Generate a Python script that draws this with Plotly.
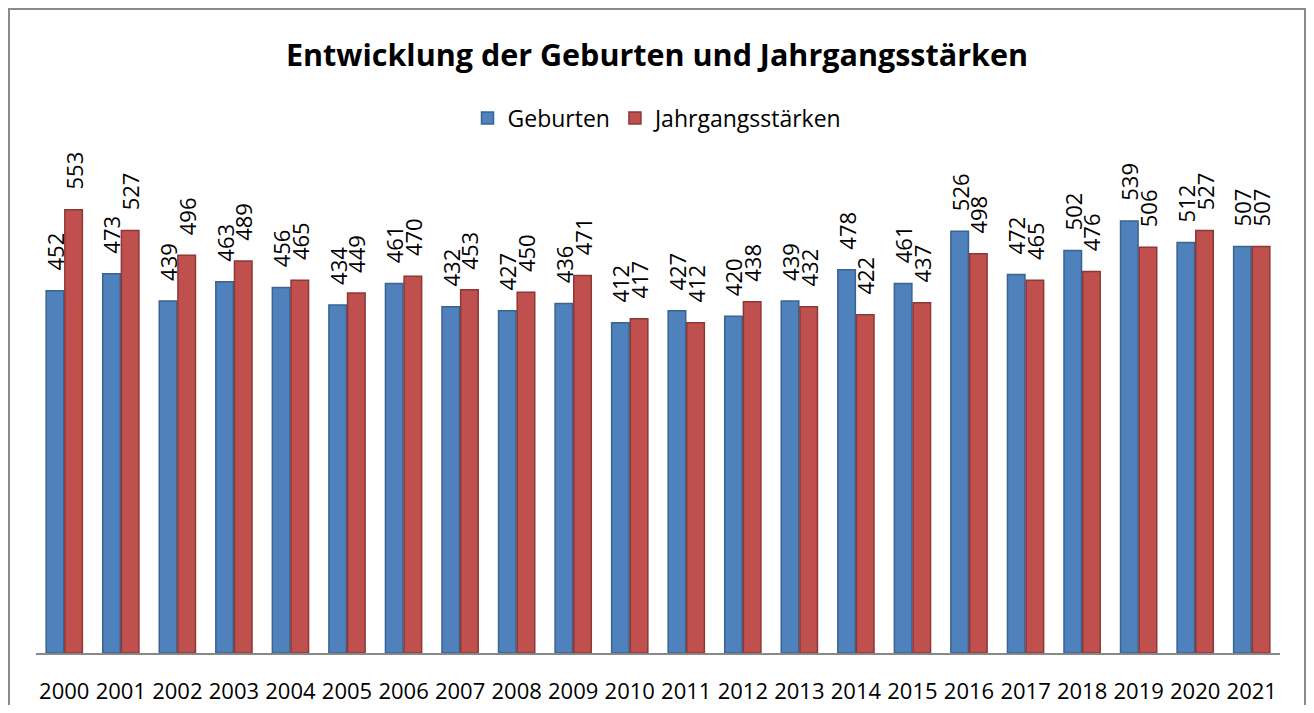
import plotly.graph_objects as go

years = [str(y) for y in range(2000, 2022)]
geburten = [452, 473, 439, 463, 456, 434, 461, 432, 427, 436, 412, 427, 420, 439, 478, 461, 526, 472, 502, 539, 512, 507]
jahrgang = [553, 527, 496, 489, 465, 449, 470, 453, 450, 471, 417, 412, 438, 432, 422, 437, 498, 465, 476, 506, 527, 507]

# page body has an 8px margin on every side; figure coords = screen coords - 8
OFF = 8
W, H = 1314 - 2 * OFF, 713 - 2 * OFF
plot_left, plot_right, plot_top, plot_bottom = 36, 1280, 172, 653  # screen px
ml = plot_left - OFF
mr = W - (plot_right - OFF)
mt = plot_top - OFF
mb = H - (plot_bottom - OFF)
pw, ph = W - ml - mr, H - mt - mb

font_family = "Open Sans, Lato, Liberation Sans, sans-serif"
label_tpl = "\u00a0\u00a0\u00a0%{y}"

fig = go.Figure()
fig.add_trace(go.Bar(
    name="Geburten", x=years, y=geburten,
    marker=dict(color="#4F81BD", line=dict(color="#3A6390", width=1.5)),
    texttemplate=label_tpl, textposition="outside", textangle=-90,
    textfont=dict(size=22, color="#000000", family=font_family),
    cliponaxis=False,
))
fig.add_trace(go.Bar(
    name="Jahrgangsstärken", x=years, y=jahrgang,
    marker=dict(color="#C0504D", line=dict(color="#8C3836", width=1.5)),
    texttemplate=label_tpl, textposition="outside", textangle=-90,
    textfont=dict(size=22, color="#000000", family=font_family),
    cliponaxis=False,
))

def px_x(sx):
    return (sx - OFF - ml) / pw

def px_y(sy):
    return (H - mb - (sy - OFF)) / ph

fig.update_layout(
    width=W, height=H,
    margin=dict(l=ml, r=mr, t=mt, b=mb, autoexpand=False),
    paper_bgcolor="white", plot_bgcolor="white",
    barmode="group", bargap=0.34, bargroupgap=0.06,
    uniformtext=dict(minsize=22, mode="show"),
    font=dict(family=font_family, color="#000000"),
    title=dict(
        text="<b>Entwicklung der Geburten und Jahrgangsstärken</b>",
        x=0.5, xanchor="center", y=1 - (55 - OFF) / H, yanchor="middle",
        font=dict(size=30.5, family="Open Sans, Liberation Sans, sans-serif", color="#000000"),
    ),
    legend=dict(
        orientation="h", x=0.5, xanchor="center", y=px_y(118), yanchor="middle",
        font=dict(size=23), bgcolor="rgba(0,0,0,0)", itemwidth=30,
    ),
    showlegend=True,
    xaxis=dict(
        showline=True, linecolor="#888888", linewidth=2,
        ticks="", showgrid=False, tickfont=dict(size=22),
        ticklabelstandoff=18, automargin=False,
    ),
    yaxis=dict(visible=False, range=[0, 600], showgrid=False, automargin=False),
    shapes=[dict(
        type="rect", xref="paper", yref="paper",
        x0=px_x(9), x1=px_x(1305), y0=px_y(760), y1=px_y(9),
        line=dict(color="#8A8A8A", width=2), fillcolor="rgba(0,0,0,0)",
    )],
)

fig.write_html("out.html")
